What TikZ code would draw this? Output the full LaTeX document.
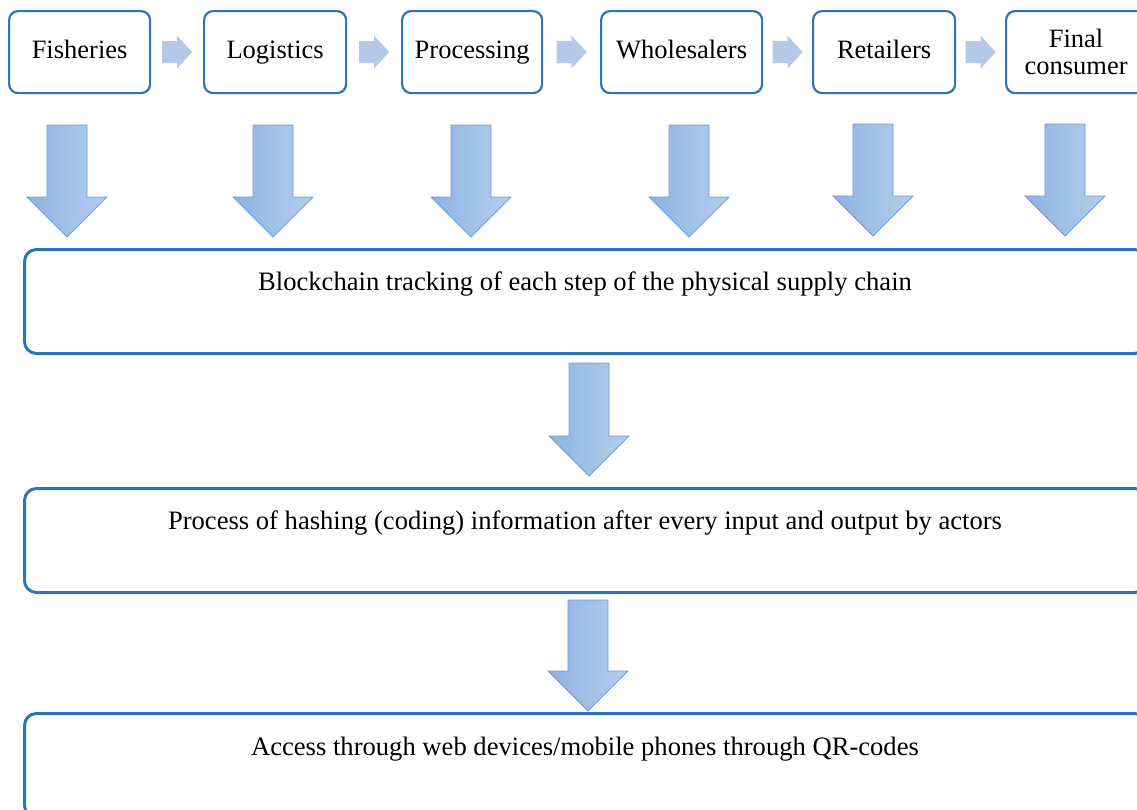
\documentclass[tikz,border=0pt]{standalone}
\usepackage{fontspec}
\setmainfont{Liberation Serif}
\usetikzlibrary{calc}
\definecolor{boxblue}{HTML}{2E75B6}
\definecolor{lightarr}{HTML}{B4C9E8}
\definecolor{gradL}{HTML}{8DB3E2}
\definecolor{gradR}{HTML}{B5CEEC}
\definecolor{arredge}{HTML}{6E9FD8}
\tikzset{
  topbox/.style={draw=boxblue, line width=2.2pt, rounded corners=9pt, fill=white,
    minimum height=82pt, inner sep=0pt, anchor=north west, align=center,
    font=\fontsize{26.5}{27}\selectfont},
  bigbox/.style={draw=boxblue, line width=3pt, rounded corners=12pt, fill=white,
    minimum height=104pt, inner sep=0pt, anchor=north west},
  bigtext/.style={font=\fontsize{26.6}{30}\selectfont, inner sep=0pt, anchor=base},
  lightarrow/.style={fill=lightarr, draw=none},
  downarrow/.style={left color=gradL, right color=gradR, draw=arredge, line width=0.8pt, line join=miter},
}
\newcommand\RArr[2]{%
  \path ($(#1.east)!0.5!(#2.west)$) coordinate (m-#1);
  \fill[lightarrow, shift={(m-#1)}] (-15,-11) -- (0,-11) -- (0,-16.5) -- (15,0) -- (0,16.5) -- (0,11) -- (-15,11) -- cycle;
}
% #1 center x, #2 shaft top, #3 head start, #4 tip
\newcommand\DArr[4]{%
  \path[downarrow] (#1-20,#2) -- (#1+20,#2) -- (#1+20,#3) -- (#1+40,#3) -- (#1,#4) -- (#1-40,#3) -- (#1-20,#3) -- cycle;
}
\begin{document}
\begin{tikzpicture}[x=1pt,y=-1pt]
\useasboundingbox (0,0) rectangle (1137,809);
\clip (0,0) rectangle (1137,809);

\node[topbox, minimum width=141pt, text height=18pt, text depth=5pt] (fish) at (8,10) {Fisheries};
\node[topbox, minimum width=142pt, text height=18pt, text depth=5pt] (logi) at (203,10) {Logistics};
\node[topbox, minimum width=140pt, text height=18pt, text depth=5pt] (proc) at (401,10) {Processing};
\node[topbox, minimum width=161pt, text height=18pt, text depth=5pt] (whol) at (600,10) {Wholesalers};
\node[topbox, minimum width=142pt, text height=18pt, text depth=5pt] (reta) at (812,10) {Retailers};
\node[topbox, minimum width=140pt] (fina) at (1005,10) {Final\\consumer};

\RArr{fish}{logi}
\RArr{logi}{proc}
\RArr{proc}{whol}
\RArr{whol}{reta}
\RArr{reta}{fina}

\DArr{67}{125}{197}{237}
\DArr{273}{125}{197}{237}
\DArr{471}{125}{197}{237}
\DArr{689}{125}{197}{237}
\DArr{873}{124}{196}{236}
\DArr{1065}{124}{196}{236}

\node[bigbox, minimum width=1122pt] (b1) at (23,248) {};
\node[bigtext] (t1) at (585,290) {Blockchain tracking of each step of the physical supply chain};

\DArr{589}{363}{436}{476}

\node[bigbox, minimum width=1122pt] (b2) at (23,487) {};
\node[bigtext] (t2) at (585,529) {Process of hashing (coding) information after every input and output by actors};

\DArr{588}{600}{671}{711}

\node[bigbox, minimum width=1122pt] (b3) at (23,712) {};
\node[bigtext] (t3) at (585,755) {Access through web devices/mobile phones through QR-codes};
\end{tikzpicture}
\end{document}
